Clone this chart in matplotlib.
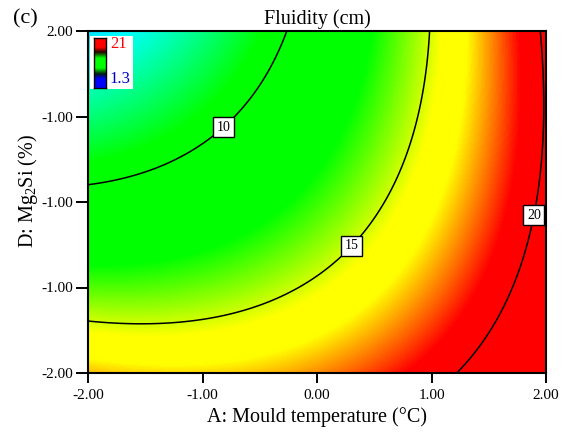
import numpy as np
import matplotlib.pyplot as plt
from matplotlib.colors import LinearSegmentedColormap

# quadratic response model for fluidity (cm), coded factors A and D
terms = ['1', 'A', 'D', 'A2', 'D2', 'AD']
coef = [13.371, 2.453, -1.685, 0.526, 0.230, 0.589]

levels = [10, 15, 20]
label_pos = [(-0.85, 0.92), (0.27, -0.47), (1.87, -0.15)]

xticks = [-2, -1, 0, 1, 2]
xticklabels = ['-2.00', '-1.00', '0.00', '1.00', '2.00']
yticks = [-2, -1, 0, 1, 2]
yticklabels = ['-2.00', '-1.00', '-1.00', '-1.00', '2.00']

vmin, vmax = 1.3, 22.4

a = np.linspace(-2, 2, 400)
d = np.linspace(-2, 2, 400)
AA, DD = np.meshgrid(a, d)
Z = (coef[0] + coef[1]*AA + coef[2]*DD + coef[3]*AA**2
     + coef[4]*DD**2 + coef[5]*AA*DD)

def frac(v):
    return (v - vmin) / (vmax - vmin)

cmap = LinearSegmentedColormap.from_list('de', [
    (0.0, '#0000ff'), (frac(6.3), '#00ffff'), (frac(9.3), '#00ff00'),
    (frac(12.8), '#00ff00'), (frac(15.5), '#ffff00'), (frac(16.6), '#ffff00'),
    (frac(17.8), '#ff8000'), (frac(19.0), '#ff0000'), (1.0, '#ff0000')])

plt.rcParams['font.family'] = 'Liberation Serif'
plt.rcParams['mathtext.fontset'] = 'custom'
plt.rcParams['mathtext.rm'] = 'Liberation Serif'

fig = plt.figure(figsize=(5.66, 4.37), dpi=100)
ax = fig.add_axes([88/566, 1-373/437, 458/566, 342/437])
ax.imshow(Z, origin='lower', extent=[-2, 2, -2, 2], aspect='auto',
          cmap=cmap, vmin=vmin, vmax=vmax, interpolation='bilinear')
cs = ax.contour(AA, DD, Z, levels=levels, colors='k', linewidths=1.1)
labs = ax.clabel(cs, fmt='%d', inline=False, fontsize=10, manual=label_pos)
for t in labs:
    t.set_bbox(dict(boxstyle='square,pad=0.25', facecolor='white',
                    edgecolor='black', linewidth=1))
    t.set_rotation(0)

ax.set_xlim(-2, 2)
ax.set_ylim(-2, 2)
ax.set_xticks(xticks)
ax.set_xticklabels(xticklabels)
ax.set_yticks(yticks)
ax.set_yticklabels(yticklabels)
ax.tick_params(axis='x', direction='out', length=7.5, width=1.4, labelsize=11, pad=4)
ax.tick_params(axis='y', direction='out', length=8.5, width=1.4, labelsize=11, pad=2)
for s in ax.spines.values():
    s.set_linewidth(1.5)

ax.set_title('Fluidity (cm)', fontsize=14.5, pad=5)
ax.set_xlabel('A: Mould temperature (\u00b0C)', fontsize=14.5, labelpad=4)
ax.set_ylabel('D: Mg$_\\mathrm{2}$Si (%)', fontsize=14.5)
ax.yaxis.set_label_coords(-0.105, 0.532)
fig.text(13/566, 1-23/437, '(c)', fontsize=16, va='baseline')

# small colour key in the top-left corner
key = fig.add_axes([90/566, 1-89/437, 43/566, 53/437])
key.set_xticks([])
key.set_yticks([])
for s in key.spines.values():
    s.set_visible(False)
key.set_facecolor('white')
bar = fig.add_axes([94/566, 1-88/437, 12/566, 50/437])
keymap = LinearSegmentedColormap.from_list('key', [
    (0.0, '#0000ff'), (0.18, '#0000ff'), (0.28, '#001a10'), (0.4, '#00ff00'),
    (0.6, '#00ff00'), (0.72, '#200800'), (0.82, '#ff0000'), (1.0, '#ff0000')])
bar.imshow(np.linspace(0, 1, 100).reshape(-1, 1), origin='lower',
           aspect='auto', cmap=keymap)
bar.set_xticks([])
bar.set_yticks([])
for s in bar.spines.values():
    s.set_linewidth(1)
fig.text(119/566, 1-44/437, '21', color='#ff0000', fontsize=12, ha='center', va='center')
fig.text(120/566, 1-79/437, '1.3', color='#0000cc', fontsize=12, ha='center', va='center')

fig.savefig('out.png')
